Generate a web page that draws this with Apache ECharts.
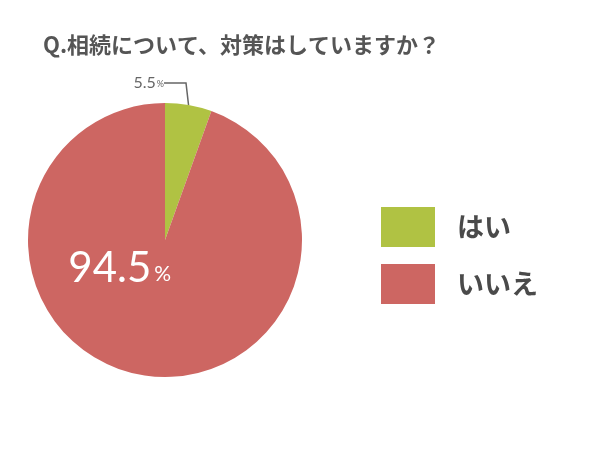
<!DOCTYPE html>
<html><head><meta charset="utf-8">
<script src="https://cdn.jsdelivr.net/npm/echarts@6/dist/echarts.min.js"></script>
<style>html,body{margin:0;padding:0;background:#fff}#c{width:600px;height:461px}</style>
</head><body><div id="c"></div>
<script>
const titleText = 'Q.相続について、対策はしていますか？';
const categories = ['はい', 'いいえ'];
const values = [5.5, 94.5];
const colors = ['#b0c243', '#cd6662'];

const chart = echarts.init(document.getElementById('c'));
const data = categories.map((name, i) => ({
  name, value: values[i], itemStyle: { color: colors[i] }
}));
data[0].label = {
  position: 'outside',
  formatter: p => '{n|' + p.value.toFixed(1) + '}{p|%}',
  rich: {
    n: { fontSize: 16, color: '#666', fontFamily: 'Lato' },
    p: { fontSize: 9, color: '#666', fontFamily: 'Lato', padding: [3, 0, 0, 1] }
  }
};
data[0].labelLine = { show: true, length: 20, length2: 22, lineStyle: { color: '#666', width: 1.5 } };
data[1].label = {
  position: 'inside',
  offset: [-33, -42],
  formatter: p => '{n|' + p.value.toFixed(1) + '}{p|%}',
  rich: {
    n: { fontSize: 42, color: '#fff', fontFamily: 'Lato' },
    p: { fontSize: 21, color: '#fff', fontFamily: 'Lato', padding: [12, 0, 0, 3] }
  }
};
data[1].labelLine = { show: false };

chart.setOption({
  animation: false,
  title: {
    text: titleText, left: 38, top: 29,
    textStyle: { fontSize: 22, fontWeight: 'bold', color: '#555', fontFamily: 'Noto Sans CJK JP' }
  },
  legend: {
    orient: 'vertical', left: 376, top: 202,
    itemWidth: 54, itemHeight: 40, itemGap: 17, icon: 'rect',
    data: categories,
    textStyle: { fontSize: 27, fontWeight: 'bold', color: '#4a4a4a', fontFamily: 'Noto Sans CJK JP', padding: [0, 0, 0, 17] }
  },
  series: [{
    type: 'pie',
    center: [165, 240],
    radius: 137,
    startAngle: 90,
    clockwise: true,
    data,
    labelLayout: params => {
      if (params.dataIndex === 0) {
        return { x: 164, y: 83, align: 'right', verticalAlign: 'middle' };
      }
      return {};
    }
  }]
});
</script></body></html>
